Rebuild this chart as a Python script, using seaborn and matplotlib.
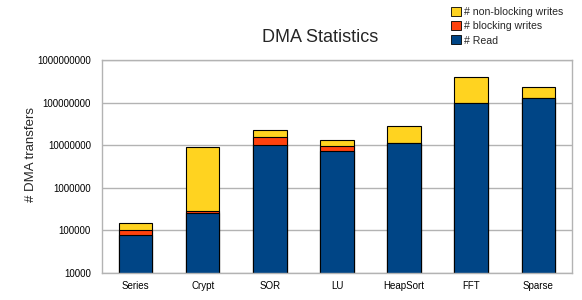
import matplotlib
matplotlib.use("Agg")
import matplotlib.pyplot as plt
import seaborn as sns
import numpy as np
import pandas as pd
from matplotlib.patches import Patch

categories = ["Series", "Crypt", "SOR", "LU", "HeapSort", "FFT", "Sparse"]
reads = [78000, 260000, 10300000, 7200000, 11000000, 96000000, 128000000]
blocking = [22000, 30000, 5700000, 2400000, 300000, 500000, 1500000]
nonblocking = [50000, 8900000, 6400000, 3600000, 16700000, 297000000, 100000000]
yticks = [10000, 100000, 1000000, 10000000, 100000000, 1000000000]

c_read = "#004586"
c_block = "#ff420e"
c_nonblock = "#ffd320"

sns.set_style("white")
plt.rcParams["font.family"] = ["Liberation Sans", "DejaVu Sans"]

df = pd.DataFrame({"cat": categories, "read": reads, "block": blocking, "nonblock": nonblocking})
df["lvl2"] = df["read"] + df["block"]
df["lvl3"] = df["lvl2"] + df["nonblock"]

fig = plt.figure(figsize=(5.82, 3.0), dpi=100)
ax = fig.add_axes([102/582, 1 - 273/300, (572-102)/582, (273-60)/300])
ax.set_yscale("log")

for col, color in [("lvl3", c_nonblock), ("lvl2", c_block), ("read", c_read)]:
    sns.barplot(data=df, x="cat", y=col, color=color, width=0.5, ax=ax,
                edgecolor="black", linewidth=0.8, saturation=1, order=categories)

ax.set_ylim(1e4, 1e9)
ax.set_yticks(yticks)
ax.set_yticklabels([str(v) for v in yticks])
ax.minorticks_off()
ax.yaxis.set_minor_locator(matplotlib.ticker.NullLocator())
ax.grid(axis="y", color="#b3b3b3", linewidth=1)
ax.set_axisbelow(True)
for s in ax.spines.values():
    s.set_color("#b3b3b3")
    s.set_linewidth(1)
ax.tick_params(axis="both", labelsize=7, colors="black")
ax.tick_params(axis="x", length=3, color="#b3b3b3", pad=3)
ax.tick_params(axis="y", length=6, color="#b3b3b3", direction="out", pad=2)
ax.set_xlabel("")
ax.set_ylabel("# DMA transfers", fontsize=9.5)
ax.yaxis.set_label_coords(-0.138, 0.555)
ax.set_xlim(-0.5, 6.5)

fig.text(320/582, 1 - 38/300, "DMA Statistics", ha="center", va="center", fontsize=13)

handles = [Patch(facecolor=c_nonblock, edgecolor="black", linewidth=0.6, label="# non-blocking writes"),
           Patch(facecolor=c_block, edgecolor="black", linewidth=0.6, label="# blocking writes"),
           Patch(facecolor=c_read, edgecolor="black", linewidth=0.6, label="# Read")]
fig.legend(handles=handles, loc="upper left", bbox_to_anchor=(451/582, 1 - 7/300), frameon=False,
           fontsize=7.6, handlelength=0.9, handleheight=0.9, handletextpad=0.3, labelspacing=0.4,
           borderpad=0, borderaxespad=0)

fig.savefig("out.png", dpi=100)
